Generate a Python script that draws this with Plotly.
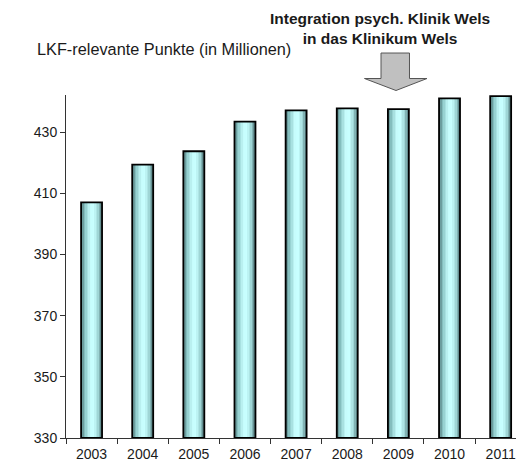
import plotly.graph_objects as go

years = ["2003", "2004", "2005", "2006", "2007", "2008", "2009", "2010", "2011"]
points = [407.1, 419.4, 423.8, 433.5, 437.2, 437.8, 437.6, 441.1, 441.8]
y_ticks = [330, 350, 370, 390, 410, 430]

title_text = "LKF-relevante Punkte (in Millionen)"
note_text = "<b>Integration psych. Klinik Wels<br>in das Klinikum Wels</b>"

FONT = "Liberation Sans, Arial, sans-serif"
BAR_W = 0.41
N_STRIPS = 14

# horizontal cylinder gradient stops (position, rgb)
stops = [(0.0, (70, 108, 110)), (0.2, (140, 200, 200)), (0.45, (198, 252, 252)),
         (0.62, (200, 255, 255)), (0.82, (160, 215, 215)), (1.0, (85, 125, 128))]


def grad(t):
    for (p0, c0), (p1, c1) in zip(stops, stops[1:]):
        if p0 <= t <= p1:
            f = (t - p0) / (p1 - p0)
            return "rgb(%d,%d,%d)" % tuple(round(a + (b - a) * f) for a, b in zip(c0, c1))
    return "rgb(%d,%d,%d)" % stops[-1][1]


fig = go.Figure()
sw = BAR_W / N_STRIPS
for i in range(N_STRIPS):
    t = (i + 0.5) / N_STRIPS
    fig.add_trace(go.Bar(
        x=years, y=[v - 330 for v in points], base=330,
        width=sw * 1.08, offset=-BAR_W / 2 + i * sw,
        marker=dict(color=grad(t), line=dict(width=0)),
        showlegend=False, hoverinfo="skip"))

fig.add_trace(go.Bar(
    x=years, y=[v - 330 for v in points], base=330,
    width=BAR_W, offset=-BAR_W / 2,
    marker=dict(color="rgba(0,0,0,0)", line=dict(color="black", width=1.8)),
    showlegend=False))

# plot area geometry in pixels (for annotation placement)
L, R, T, B = 66, 516, 94.5, 437.7
W, H = R - L, B - T


def px(xp):
    return (xp - L) / W


def py(yp):
    return (B - yp) / H


arrow = [(381, 52.5), (409.5, 52.5), (409.5, 78), (427, 78), (396, 90),
         (364.5, 78), (381, 78)]
path = "M " + " L ".join("%.4f,%.4f" % (px(a), py(b)) for a, b in arrow) + " Z"

fig.update_layout(
    width=516, height=463,
    margin=dict(l=L, r=0, t=T, b=463 - B, pad=0),
    paper_bgcolor="white", plot_bgcolor="white",
    barmode="overlay",
    font=dict(family=FONT, size=14, color="#1a1a1a"),
    xaxis=dict(type="category", range=[-0.5, 8.3], showline=True, linecolor="#333",
               linewidth=1, ticks="outside", ticklen=5, tickcolor="#333",
               tickson="boundaries", showgrid=False, zeroline=False,
               ticklabelstandoff=3,
               tickfont=dict(size=14, color="#1a1a1a")),
    yaxis=dict(range=[330, 442.2], tickvals=y_ticks, showline=True, linecolor="#333",
               linewidth=1, ticks="outside", ticklen=5, tickcolor="#333",
               showgrid=False, zeroline=False, tickfont=dict(size=14, color="#1a1a1a")),
    shapes=[dict(type="path", xref="paper", yref="paper", path=path,
                 fillcolor="#c0c0c0", line=dict(color="#555", width=1))],
    annotations=[
        dict(text=title_text, xref="paper", yref="paper", x=px(35), y=py(48),
             xanchor="left", yanchor="middle", showarrow=False,
             font=dict(size=16.3, color="#1a1a1a", family=FONT)),
        dict(text=note_text, xref="paper", yref="paper", x=px(380), y=py(28),
             xanchor="center", yanchor="middle", showarrow=False,
             font=dict(size=15.5, color="#1a1a1a", family=FONT)),
    ],
)

fig.write_html("out.html")
